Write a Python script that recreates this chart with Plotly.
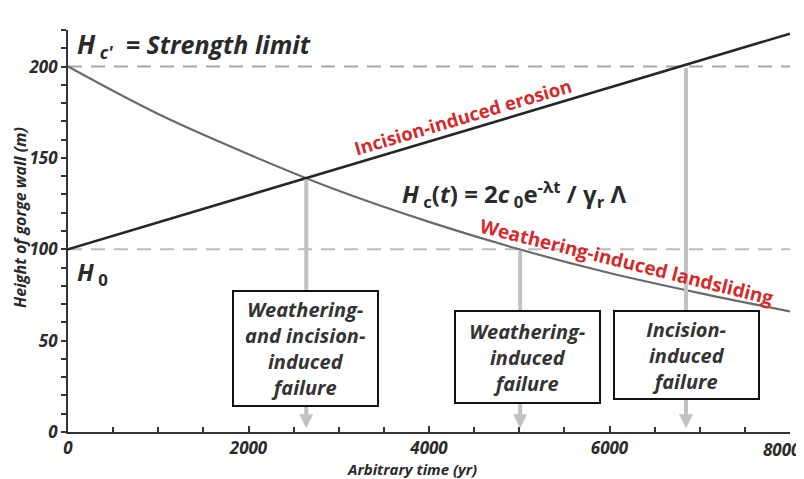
import plotly.graph_objects as go

# ---- data ----
t_years = [0, 1000, 2000, 3000, 4000, 5000, 6000, 7000, 8000]
hc_values = [200, 174, 152, 132, 115, 100, 87, 76, 66]      # weathering curve Hc(t)
hg_t = [0, 8000]
hg_values = [100, 218]                                     # incision line Hg(t)
strength_limit = 200
h0 = 100
failure_t = [2640, 5010, 6848]          # arrow positions (yr)
failure_top = [139, 100, 200]           # arrow start heights (m)
box_x = [2626, 5086, 6848]
box_y = [45.5, 41, 42]
box_w = [143, 143, 143]
box_h = [113, 90, 86]
box_text = ["Weathering-<br>and incision-<br>induced<br>failure",
            "Weathering-<br>induced<br>failure",
            "Incision-<br>induced<br>failure"]
x_ticks = [0, 2000, 4000, 6000, 8000]
x_ticklabels = ["0", "2000", "4000", "6000", ""]   # last label drawn as annotation (edge)
x_last_label = "8000"
y_ticks = [0, 50, 100, 150, 200]

FONT = "Open Sans"
DARK = "#2a2a2a"
PW, PH = 722, 402   # plot area size in px

fig = go.Figure()
fig.add_trace(go.Scatter(x=[0, 8000], y=[strength_limit]*2, mode="lines",
                         line=dict(color="#a8a8a8", width=2, dash="14px,9px"), hoverinfo="skip"))
fig.add_trace(go.Scatter(x=[0, 8000], y=[h0]*2, mode="lines",
                         line=dict(color="#bdbdbd", width=2, dash="14px,9px"), hoverinfo="skip"))
fig.add_trace(go.Scatter(x=t_years, y=hc_values, mode="lines", line_shape="spline",
                         line=dict(color="#6a6a6a", width=2.2), hoverinfo="skip"))
fig.add_trace(go.Scatter(x=hg_t, y=hg_values, mode="lines",
                         line=dict(color="#262626", width=2.6), hoverinfo="skip"))

ann = []
for xt, yt in zip(failure_t, failure_top):
    ann.append(dict(x=xt, y=2, ax=xt, ay=yt, xref="x", yref="y", axref="x", ayref="y",
                    text="", showarrow=True, arrowhead=2, arrowsize=0.7, arrowwidth=4,
                    arrowcolor="#c2c2c2"))
for bx, by, bw, bh, bt in zip(box_x, box_y, box_w, box_h, box_text):
    ann.append(dict(x=bx, y=by, xref="x", yref="y", text="<b><i>" + bt + "</i></b>",
                    showarrow=False, width=bw, height=bh, bgcolor="white",
                    bordercolor="#111", borderwidth=2, borderpad=0, align="center",
                    valign="middle",
                    font=dict(family=FONT, size=20, color="#333")))

ann += [
    dict(x=x_ticks[-1], y=0, xref="x", yref="y", xanchor="right", yanchor="top",
         xshift=13, yshift=-4, showarrow=False, text=f"<b><i>{x_last_label}</i></b>",
         font=dict(family=FONT, size=17, color=DARK)),
    dict(x=78, y=212, xref="x", yref="y", xanchor="left", yanchor="middle", showarrow=False,
         text="<b><i><span style='font-size:26px'>H</span><sub> c'</sub>  = Strength limit</i></b>",
         font=dict(family=FONT, size=25, color=DARK)),
    dict(x=5175, y=221.5, xref="x", yref="y", xanchor="left", yanchor="middle", showarrow=False,
         text="<b><i>H</i><sub> g</sub>(<i>t</i>) = <i>H</i><sub> 0</sub>+ <i>Et</i></b>",
         font=dict(family=FONT, size=21, color=DARK)),
    dict(x=78, y=87, xref="x", yref="y", xanchor="left", yanchor="middle", showarrow=False,
         text="<b><i>H</i><sub> 0</sub></b>",
         font=dict(family=FONT, size=24, color=DARK)),
    dict(x=3679, y=130, xref="x", yref="y", xanchor="left", yanchor="middle", showarrow=False,
         text="<b><i>H</i><sub> c</sub>(<i>t</i>) = 2<i>c</i><sub> 0</sub>e<sup>-λt</sup> / γ<sub>r</sub> Λ</b>",
         font=dict(family=FONT, size=24, color=DARK)),
    dict(x=4377, y=172.5, xref="x", yref="y", showarrow=False, textangle=-16.5,
         text="<b>Incision-induced erosion</b>",
         font=dict(family=FONT, size=18.5, color="#d42a2a")),
    dict(x=6194, y=93, xref="x", yref="y", showarrow=False, textangle=14,
         text="<b>Weathering-induced landsliding</b>",
         font=dict(family=FONT, size=19, color="#d42a2a")),
    dict(x=(412 - 68) / PW, y=-37 / PH, xref="paper", yref="paper", showarrow=False,
         yanchor="middle", text="<b><i>Arbitrary time (yr)</i></b>",
         font=dict(family=FONT, size=15, color=DARK)),
    dict(x=(20 - 68) / PW, y=(432 - 218) / PH, xref="paper", yref="paper", showarrow=False,
         textangle=-90, xanchor="center", yanchor="middle",
         text="<b><i>Height of gorge wall (m)</i></b>",
         font=dict(family=FONT, size=16, color=DARK)),
]

# page has an 8px body margin, so the figure is 8px smaller and margins shifted
fig.update_layout(
    width=796, height=471, margin=dict(l=60, r=14, t=22, b=47, autoexpand=False),
    paper_bgcolor="white", plot_bgcolor="white", showlegend=False,
    annotations=ann,
    font=dict(family=FONT, color=DARK),
    xaxis=dict(range=[0, 8000], tickvals=x_ticks,
               ticktext=[f"<b><i>{v}</i></b>" if v else "" for v in x_ticklabels],
               showgrid=False, zeroline=False, showline=True, linecolor="#333", linewidth=2,
               ticks="inside", ticklen=6, tickwidth=2, tickcolor="#333", automargin=False,
               ticklabeloverflow="allow",
               minor=dict(dtick=500, ticks="inside", ticklen=5, tickwidth=1.5, tickcolor="#333"),
               tickfont=dict(family=FONT, size=17, color=DARK)),
    yaxis=dict(range=[0, 220], tickvals=y_ticks, ticktext=[f"<b><i>{v}</i></b>" for v in y_ticks],
               showgrid=False, zeroline=False, showline=True, linecolor="#333", linewidth=2,
               ticks="outside", ticklen=5, tickwidth=2, tickcolor="#333", automargin=False,
               ticklabeloverflow="allow",
               minor=dict(dtick=10, ticks="outside", ticklen=5, tickwidth=1.5, tickcolor="#333"),
               tickfont=dict(family=FONT, size=17, color=DARK)),
)

fig.write_html("out.html")
